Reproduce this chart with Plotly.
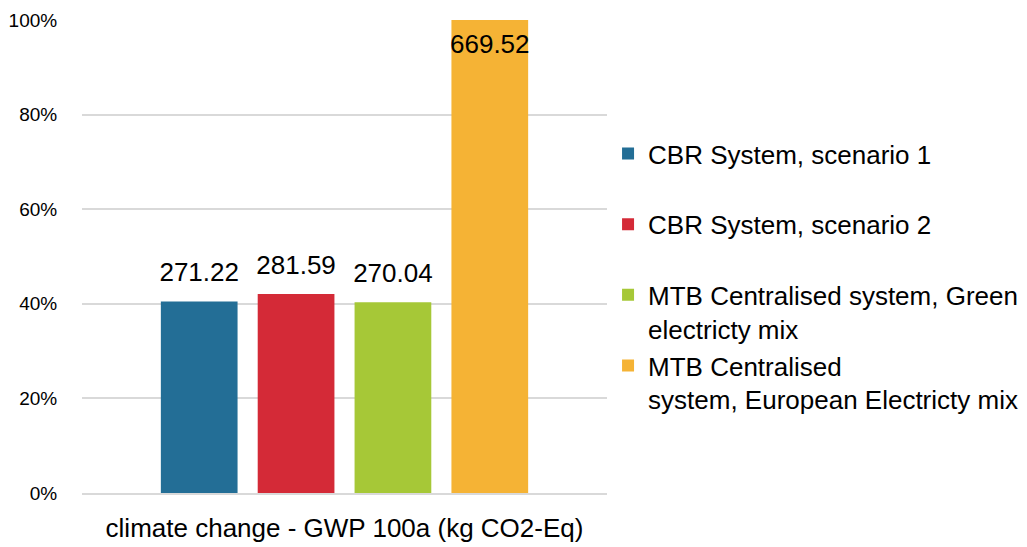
import plotly.graph_objects as go

category = ["climate change - GWP 100a (kg CO2-Eq)"]
series_names = [
    "CBR System, scenario 1<br> ",
    "CBR System, scenario 2<br> ",
    "MTB Centralised system, Green<br>electricty mix",
    "MTB Centralised<br>system, European Electricty mix",
]
series_values = [271.22, 281.59, 270.04, 669.52]
series_colors = ["#236e96", "#d42a37", "#a6c837", "#f5b335"]
y_ticks = [0, 0.2, 0.4, 0.6, 0.8, 1.0]

FONT = "Arial, Liberation Sans, sans-serif"
max_val = max(series_values)
shares = [v / max_val for v in series_values]

fig = go.Figure()
for i, (name, val, share, col) in enumerate(zip(series_names, series_values, shares, series_colors)):
    fig.add_trace(go.Bar(
        x=category, y=[share], name=name, legendgroup=f"g{i}",
        marker=dict(color=col, line=dict(width=0)),
        hovertemplate=f"{val:.2f}<extra></extra>",
    ))
for name, val, share in zip(series_names, series_values, shares):
    fig.add_trace(go.Scatter(
        x=category, y=[share], mode="markers+text",
        text=[f"{val:.2f}"],
        textposition="bottom center" if share > 0.95 else "top center",
        textfont=dict(family=FONT, size=26, color="#000000"),
        marker=dict(size=20, opacity=0),
        showlegend=False, hoverinfo="skip", cliponaxis=False,
    ))

fig.update_layout(
    width=1019, height=539,
    margin=dict(l=74, r=420, t=12, b=54, autoexpand=False),
    paper_bgcolor="white", plot_bgcolor="white",
    barmode="group", bargap=0.262, bargroupgap=0.208,
    scattermode="group", scattergap=0.262,
    font=dict(family=FONT, color="#000000"),
    showlegend=True,
    legend=dict(
        x=1.002, xanchor="left", y=0.767, yanchor="top",
        font=dict(family=FONT, size=26, color="#000000"),
        valign="top", tracegroupgap=6, traceorder="normal",
        bgcolor="rgba(0,0,0,0)",
    ),
    xaxis=dict(
        showgrid=False, showline=True, linecolor="#d9d9d9", linewidth=2,
        tickfont=dict(family=FONT, size=26, color="#000000"),
        ticks="outside", ticklen=11, tickcolor="rgba(0,0,0,0)",
        automargin=False,
    ),
    yaxis=dict(
        range=[0, 1], tickvals=y_ticks, tickformat=".0%",
        showgrid=True, gridcolor="#d9d9d9", gridwidth=2,
        zeroline=False, showline=False,
        tickfont=dict(family=FONT, size=19, color="#000000"),
        ticks="outside", ticklen=20, tickcolor="rgba(0,0,0,0)",
        automargin=False,
    ),
)

fig.write_html("out.html")
